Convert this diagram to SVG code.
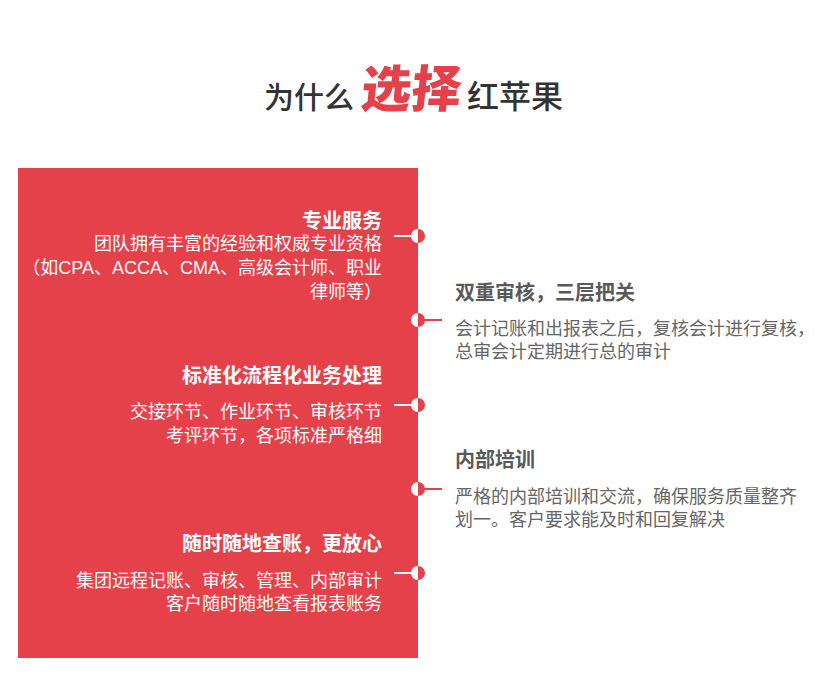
<svg xmlns="http://www.w3.org/2000/svg" width="828" height="678" viewBox="0 0 828 678">
<defs>
<style>
.t{font-family:"Noto Sans CJK SC","Noto Sans",sans-serif;}
.lat{font-family:"Liberation Sans","Noto Sans CJK SC",sans-serif;}
.h{font-size:30px;fill:#333;font-weight:500;}
.h2{font-size:32px;fill:#333;font-weight:500;}
.hl{font-size:50px;fill:#e4414b;font-weight:900;}
.lt{font-size:20px;font-weight:700;fill:#fff;text-anchor:end;}
.lb{font-size:18px;fill:#fff;text-anchor:end;}
.rt{font-size:20px;font-weight:700;fill:#595959;}
.rb{font-size:18px;fill:#666;}
.wl{stroke:#fff;stroke-width:2;}
.rl{stroke:#e4414b;stroke-width:2;}
</style>
</defs>
<rect width="828" height="678" fill="#fff"/>
<g id="title">
<text class="t h" x="264" y="108">为什么</text>
<text class="t hl" x="360" y="107" transform="skewX(-6) translate(11,0)">选择</text>
<text class="t h2" x="467" y="108">红苹果</text>
</g>
<g id="panel">
<rect x="18" y="168" width="400" height="490" fill="#e4414b"/>
</g>
<g id="connectors">
<line class="wl" x1="394" y1="236" x2="412" y2="236"/>
<line class="rl" x1="418" y1="320" x2="442" y2="320"/>
<line class="wl" x1="394" y1="405" x2="412" y2="405"/>
<line class="rl" x1="418" y1="489" x2="442" y2="489"/>
<line class="wl" x1="394" y1="573" x2="412" y2="573"/>
<g id="dots">
<path d="M418,229 A7,7 0 0 0 418,243 Z" fill="#fff"/><path d="M418,229 A7,7 0 0 1 418,243 Z" fill="#e4414b"/>
<path d="M418,313 A7,7 0 0 0 418,327 Z" fill="#fff"/><path d="M418,313 A7,7 0 0 1 418,327 Z" fill="#e4414b"/>
<path d="M418,398 A7,7 0 0 0 418,412 Z" fill="#fff"/><path d="M418,398 A7,7 0 0 1 418,412 Z" fill="#e4414b"/>
<path d="M418,482 A7,7 0 0 0 418,496 Z" fill="#fff"/><path d="M418,482 A7,7 0 0 1 418,496 Z" fill="#e4414b"/>
<path d="M418,566 A7,7 0 0 0 418,580 Z" fill="#fff"/><path d="M418,566 A7,7 0 0 1 418,580 Z" fill="#e4414b"/>
</g>
</g>
<g id="node-professional">
<text class="t lt" x="382" y="228">专业服务</text>
<text class="t lb" x="382" y="250">团队拥有丰富的经验和权威专业资格</text>
<text class="lat lb" x="382" y="274">（如CPA、ACCA、CMA、高级会计师、职业</text>
<text class="t lb" x="382" y="298">律师等）</text>
</g>
<g id="node-standard">
<text class="t lt" x="382" y="383">标准化流程化业务处理</text>
<text class="t lb" x="382" y="418">交接环节、作业环节、审核环节</text>
<text class="t lb" x="382" y="442">考评环节，各项标准严格细</text>
</g>
<g id="node-anytime">
<text class="t lt" x="382" y="551">随时随地查账，更放心</text>
<text class="t lb" x="382" y="587">集团远程记账、审核、管理、内部审计</text>
<text class="t lb" x="382" y="610">客户随时随地查看报表账务</text>
</g>
<g id="node-review">
<text class="t rt" x="455" y="300">双重审核，三层把关</text>
<text class="t rb" x="455" y="335">会计记账和出报表之后，复核会计进行复核，</text>
<text class="t rb" x="455" y="358">总审会计定期进行总的审计</text>
</g>
<g id="node-training">
<text class="t rt" x="455" y="467">内部培训</text>
<text class="t rb" x="455" y="503">严格的内部培训和交流，确保服务质量整齐</text>
<text class="t rb" x="455" y="526">划一。客户要求能及时和回复解决</text>
</g>
</svg>
